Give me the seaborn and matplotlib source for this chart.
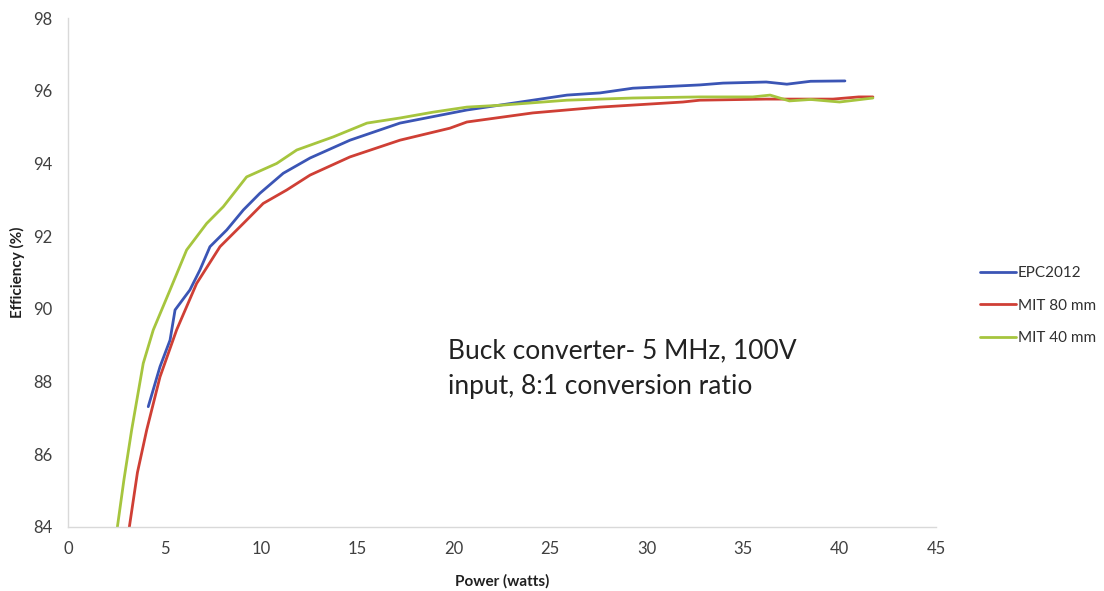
import matplotlib
matplotlib.use("Agg")
import matplotlib.pyplot as plt
import seaborn as sns
import pandas as pd

# Measured efficiency of a 5 MHz buck converter versus output power
epc_power = [4.16, 4.77, 5.29, 5.55, 6.32, 6.84, 7.36, 8.23, 9.09, 9.95, 11.16, 12.55,
             14.62, 17.21, 20.68, 24.1, 25.87, 27.58, 29.29, 32.76, 33.96, 36.2, 37.27,
             38.5, 40.28]
epc_eff = [87.31, 88.41, 89.14, 89.97, 90.52, 91.07, 91.71, 92.17, 92.72, 93.18, 93.73, 94.15,
           94.64, 95.11, 95.47, 95.74, 95.88, 95.94, 96.07, 96.16, 96.21, 96.24, 96.18,
           96.26, 96.27]

mit80_power = [3.18, 3.6, 4.08, 4.77, 5.63, 6.67, 7.88, 9.09, 10.12, 11.34, 12.55, 14.62,
               17.21, 19.8, 20.68, 24.1, 27.58, 31.88, 32.76, 36.2, 39.66, 41.0, 41.73]
mit80_eff = [84.0, 85.5, 86.67, 88.13, 89.42, 90.7, 91.71, 92.35, 92.9, 93.27, 93.68, 94.18,
             94.64, 94.97, 95.14, 95.39, 95.55, 95.69, 95.74, 95.77, 95.77, 95.83, 95.83]

mit40_power = [2.56, 2.9, 3.3, 3.9, 4.42, 5.29, 6.15, 7.19, 8.05, 9.26, 10.82, 11.86,
               13.75, 15.5, 17.21, 18.92, 20.68, 22.4, 25.87, 27.58, 29.29, 32.76,
               35.5, 36.4, 37.4, 38.5, 40.0, 40.8, 41.73]
mit40_eff = [84.0, 85.3, 86.67, 88.5, 89.42, 90.52, 91.62, 92.35, 92.81, 93.63, 94.0, 94.37,
             94.73, 95.11, 95.25, 95.41, 95.55, 95.6, 95.74, 95.77, 95.8, 95.83,
             95.83, 95.88, 95.72, 95.76, 95.69, 95.74, 95.8]

series_names = ["EPC2012", "MIT 80 mm", "MIT 40 mm"]
series_colors = ["#3b55b5", "#cf3f35", "#a6c53e"]

x_ticks = [0, 5, 10, 15, 20, 25, 30, 35, 40, 45]
y_ticks = [84, 86, 88, 90, 92, 94, 96, 98]

frames = []
for name, xs, ys in zip(series_names,
                        [epc_power, mit80_power, mit40_power],
                        [epc_eff, mit80_eff, mit40_eff]):
    frames.append(pd.DataFrame({"Power": xs, "Efficiency": ys, "Device": name}))
df = pd.concat(frames, ignore_index=True)

sns.set_theme(style="white")
plt.rcParams["font.family"] = ["Lato", "DejaVu Sans"]

fig = plt.figure(figsize=(11.04, 5.91), dpi=100)
ax = fig.add_axes([0.0616, 0.1083, 0.7862, 0.8612])

sns.lineplot(data=df, x="Power", y="Efficiency", hue="Device",
             hue_order=series_names, palette=dict(zip(series_names, series_colors)),
             linewidth=2.0, sort=False, estimator=None, ax=ax, legend=False)

ax.set_xlim(0, 45)
ax.set_ylim(84, 98)
ax.set_xticks(x_ticks)
ax.set_yticks(y_ticks)
ax.tick_params(axis="both", length=0, labelsize=12, labelcolor="#404040")
ax.tick_params(axis="x", pad=10)
ax.tick_params(axis="y", pad=11)

for side in ["top", "right"]:
    ax.spines[side].set_visible(False)
for side in ["left", "bottom"]:
    ax.spines[side].set_color("#d9d9d9")
    ax.spines[side].set_linewidth(1.0)

ax.set_xlabel("Power (watts)", fontsize=11, fontweight="bold", color="#202020")
ax.xaxis.set_label_coords(0.5, -0.092)
ax.set_ylabel("Efficiency (%)", fontsize=11, fontweight="bold", color="#202020",
              va="center")
ax.yaxis.set_label_coords(-0.058, 0.5)

ax.text(19.7, 88.35, "Buck converter- 5 MHz, 100V\ninput, 8:1 conversion ratio",
        fontsize=19, color="#222222", ha="left", va="center", linespacing=1.55)

handles = [plt.Line2D([], [], color=c, linewidth=2.0) for c in series_colors]
fig.legend(handles, series_names, loc="center left", bbox_to_anchor=(0.875, 0.483),
           frameon=False, fontsize=11, handlelength=2.4, handletextpad=0.1,
           labelspacing=1.2, labelcolor="#303030")

fig.savefig("out.png", dpi=100)
